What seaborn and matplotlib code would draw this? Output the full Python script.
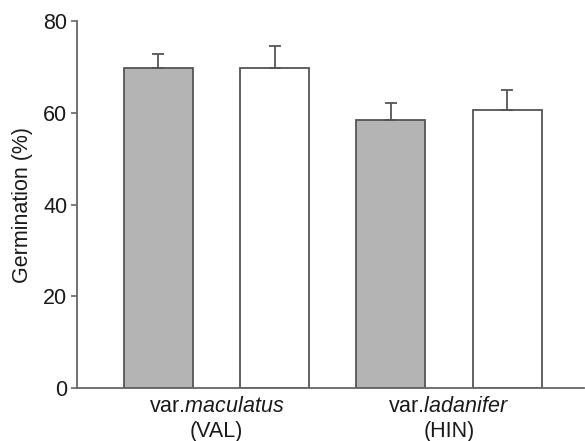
import pandas as pd
import numpy as np
import seaborn as sns
import matplotlib.pyplot as plt

# germination per seed population
groups = ["var.$\\mathit{maculatus}$\n(VAL)", "var.$\\mathit{ladanifer}$\n(HIN)"]
bars = ["VAL-1", "VAL-2", "HIN-1", "HIN-2"]
treatment = ["grey", "white", "grey", "white"]
germination = [69.7, 69.7, 58.4, 60.6]
err_up = [3.2, 4.9, 3.8, 4.5]

df = pd.DataFrame({"bar": bars, "treatment": treatment, "germination": germination})

sns.set_style("ticks")
plt.rcParams["font.family"] = ["Liberation Sans", "DejaVu Sans"]
plt.rcParams["mathtext.fontset"] = "custom"
plt.rcParams["mathtext.rm"] = "Liberation Sans"
plt.rcParams["mathtext.it"] = "Liberation Sans:italic"

edge = "#555555"
txt = "#1a1a1a"
fs = 15.5
fig, ax = plt.subplots(figsize=(5.85, 4.41), dpi=100)
fig.subplots_adjust(left=0.1316, right=0.998, bottom=0.12, top=0.952)

sns.barplot(data=df, x="bar", y="germination", hue="treatment", dodge=False,
            palette={"grey": "#b4b4b4", "white": "white"}, width=0.595,
            edgecolor=edge, linewidth=1.3, legend=False, ax=ax)

# upper error bars only
pts = sorted(ax.patches, key=lambda p: p.get_x())
xs = [p.get_x() + p.get_width() / 2 for p in pts]
ax.errorbar(xs, germination, yerr=[np.zeros(len(err_up)), err_up], fmt="none",
            ecolor=edge, elinewidth=1.3, capsize=4, capthick=1.3, zorder=1)

ax.set_ylim(0, 80)
ax.set_yticks([0, 20, 40, 60, 80])
ax.set_xlim(-0.70, 3.66)
ax.set_xticks([0.5, 2.5])
ax.set_xticklabels(groups, fontsize=fs, color=txt, linespacing=1.2)
ax.tick_params(axis="x", length=0, pad=6)
ax.tick_params(axis="y", length=4, width=1.2, color="#666666", labelsize=fs,
               pad=3, labelcolor=txt)
ax.set_xlabel("")
ax.set_ylabel("Germination (%)", fontsize=fs, color=txt, labelpad=7)

sns.despine(ax=ax)
for s in ["left", "bottom"]:
    ax.spines[s].set_color("#666666")
    ax.spines[s].set_linewidth(1.3)

plt.savefig("out.png", dpi=100)
